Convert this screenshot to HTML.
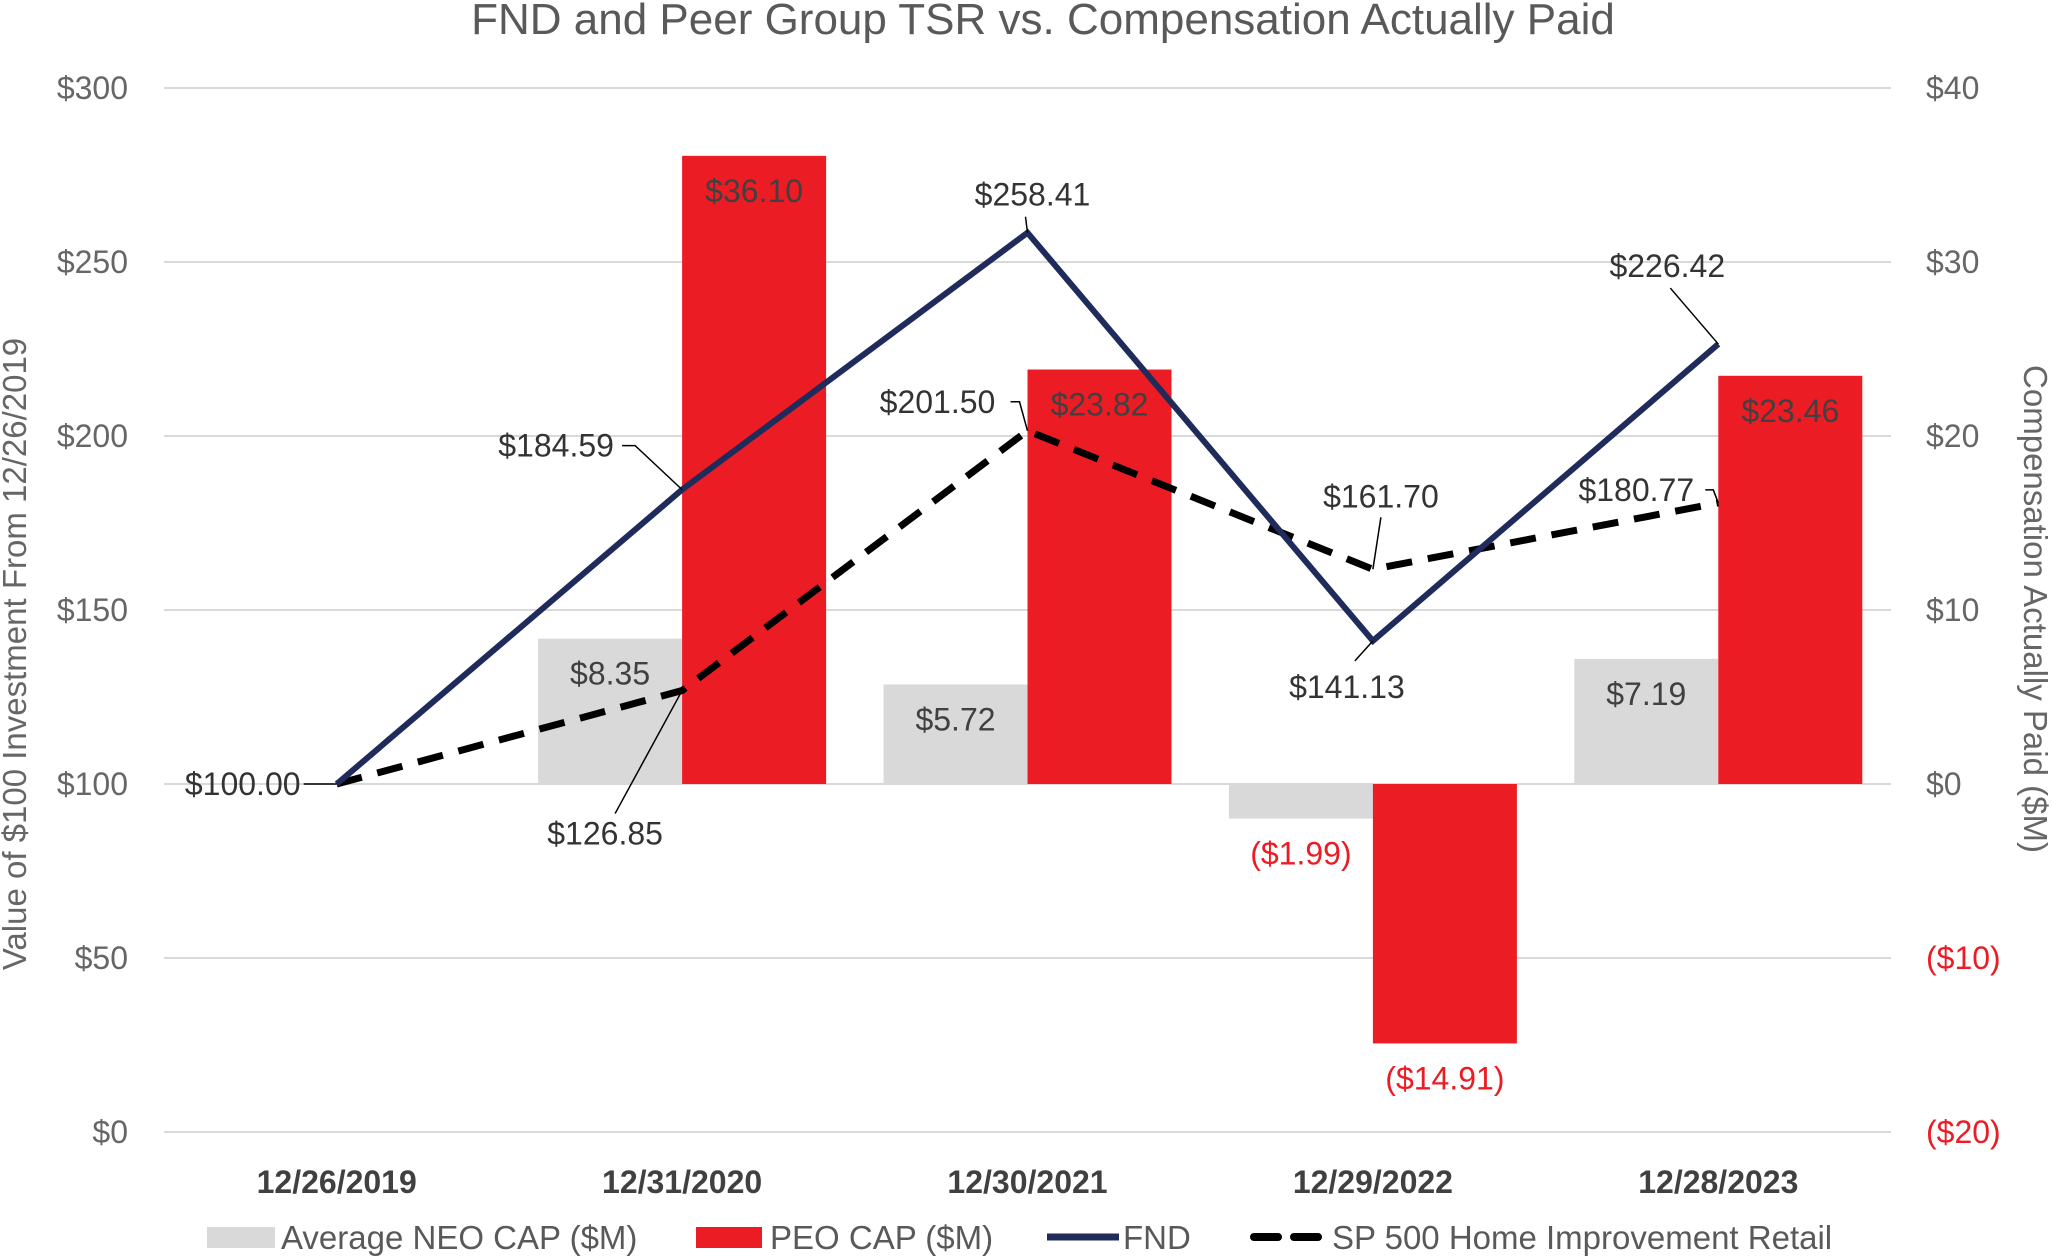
<!DOCTYPE html>
<html><head><meta charset="utf-8"><style>
html,body{margin:0;padding:0;background:#fff;}
svg{display:block;font-family:"Liberation Sans",sans-serif;}
</style></head><body>
<svg id="chart" width="2052" height="1258" viewBox="0 0 2052 1258" xmlns="http://www.w3.org/2000/svg">
<text x="1043" y="34" text-anchor="middle" font-size="44" fill="#595959">FND and Peer Group TSR vs. Compensation Actually Paid</text>
<g id="grid"></g>
<g id="bars"></g>
<g id="lines"></g>
<g id="labels"></g>
<g id="axes"></g>
<text transform="translate(26,654) rotate(-90)" text-anchor="middle" font-size="33" fill="#666">Value of $100 Investment From 12/26/2019</text>
<text transform="translate(2024,609) rotate(90)" text-anchor="middle" font-size="33" fill="#666">Compensation Actually Paid ($M)</text>
<g font-size="33" fill="#595959">
<rect x="207" y="1227" width="68" height="21" fill="#d9d9d9"/>
<text x="281" y="1249">Average NEO CAP ($M)</text>
<rect x="696" y="1227" width="66" height="21" fill="#ec1c24"/>
<text x="770" y="1249">PEO CAP ($M)</text>
<line x1="1047" y1="1237" x2="1119" y2="1237" stroke="#1f2b5b" stroke-width="7"/>
<text x="1123" y="1249">FND</text>
<line x1="1254" y1="1237" x2="1328" y2="1237" stroke="#000" stroke-width="8" stroke-dasharray="24,16" stroke-linecap="round"/>
<text x="1332" y="1249">SP 500 Home Improvement Retail</text>
</g>
</svg>
<script>
const categories = ["12/26/2019","12/31/2020","12/30/2021","12/29/2022","12/28/2023"];
const neoCap = [null, 8.35, 5.72, -1.99, 7.19];
const peoCap = [null, 36.10, 23.82, -14.91, 23.46];
const fnd = [100.00, 184.59, 258.41, 141.13, 226.42];
const sp500 = [100.00, 126.85, 201.50, 161.70, 180.77];
const leftTicks = [0,50,100,150,200,250,300];
const rightTicks = [-20,-10,0,10,20,30,40];

const NS="http://www.w3.org/2000/svg";
const L=164,R=1891,T=88,B=1132;
const yL=v=>B-(v/300)*(B-T);
const yR=v=>B-((v+20)/60)*(B-T);
const band=(R-L)/categories.length;
const xC=i=>L+band*(i+0.5);
const barW=144;
function mk(tag,attrs,parent,txt){const e=document.createElementNS(NS,tag);for(const k in attrs)e.setAttribute(k,attrs[k]);if(txt!==undefined)e.textContent=txt;parent.appendChild(e);return e;}
const g=id=>document.getElementById(id);
const fmtM=v=>v<0?"($"+Math.abs(v).toFixed(2)+")":"$"+v.toFixed(2);

leftTicks.forEach((t,i)=>{
  const ln=mk("line",{x1:L,x2:R,y1:yL(t),y2:yL(t),stroke:"#d9d9d9","stroke-width":2},g("grid"));
  
  
  const tx=mk("text",{x:128,y:yL(t)+11,"text-anchor":"end","font-size":32,fill:"#666"},g("axes"),"$"+t);
  
  
});
rightTicks.forEach(t=>{
  const tx=mk("text",{x:1926,y:yR(t)+11,"font-size":32,fill:t<0?"#ec1c24":"#666"},g("axes"),t<0?"($"+Math.abs(t)+")":"$"+t);
  
  
});
categories.forEach((c,i)=>{
  const tx=mk("text",{x:xC(i),y:1193,"text-anchor":"middle","font-size":32,"font-weight":"bold",fill:"#404040"},g("axes"),c);
  
  
});

function bar(v,x,color,name){
  if(v===null)return;
  const y0=yR(0),y1=yR(v);
  const r=mk("rect",{x:x,y:Math.min(y0,y1),width:barW,height:Math.abs(y1-y0),fill:color},g("bars"));
  
  
  const t=mk("text",{x:x+barW/2,y:y1+46,"text-anchor":"middle","font-size":32,fill:v<0?"#ec1c24":"#404040"},g("labels"),fmtM(v));
  
  
}
categories.forEach((c,i)=>{
  bar(neoCap[i],xC(i)-barW,"#d9d9d9","neo-cap-bar");
  bar(peoCap[i],xC(i),"#ec1c24","peo-cap-bar");
});

function line(data,attrs,name){
  const p=mk("polyline",Object.assign({points:data.map((v,i)=>xC(i)+","+yL(v)).join(" "),fill:"none"},attrs),g("lines"));
  
  
}
line(sp500,{stroke:"#000","stroke-width":7,"stroke-dasharray":"26,16"},"sp500-line");
line(fnd,{stroke:"#1f2b5b","stroke-width":6,"stroke-linejoin":"miter"},"fnd-line");

const fndOff=[[-94,0,[[-33,0],[0,0]]],[-126,-44,[[-60,-44],[-47,-44],[0,0]]],[5,-38,[[-2,-16],[0,0]]],[-26,46,[[-18,20],[0,0]]],[-51,-78,[[-48,-56],[0,0]]]];
const spOff=[null,[-77,143,[[-67,123],[0,0]]],[-90,-29,[[-17,-29],[-8,-29],[0,0]]],[8,-73,[[8,-52],[0,0]]],[-82,-13,[[-13,-13],[-5,-13],[0,0]]]];
function lab(data,offs,name){
  data.forEach((v,i)=>{
    const o=offs[i]; if(!o)return;
    const px=xC(i),py=yL(v);
    const pl=mk("polyline",{points:o[2].map(q=>(px+q[0])+","+(py+q[1])).join(" "),fill:"none",stroke:"#000","stroke-width":1.5},g("labels"));
    
    
    const t=mk("text",{x:px+o[0],y:py+o[1]+11,"text-anchor":"middle","font-size":32,fill:"#333"},g("labels"),"$"+v.toFixed(2));
    
    
  });
}
lab(fnd,fndOff,"fnd");
lab(sp500,spOff,"sp500");
</script>
</body></html>
